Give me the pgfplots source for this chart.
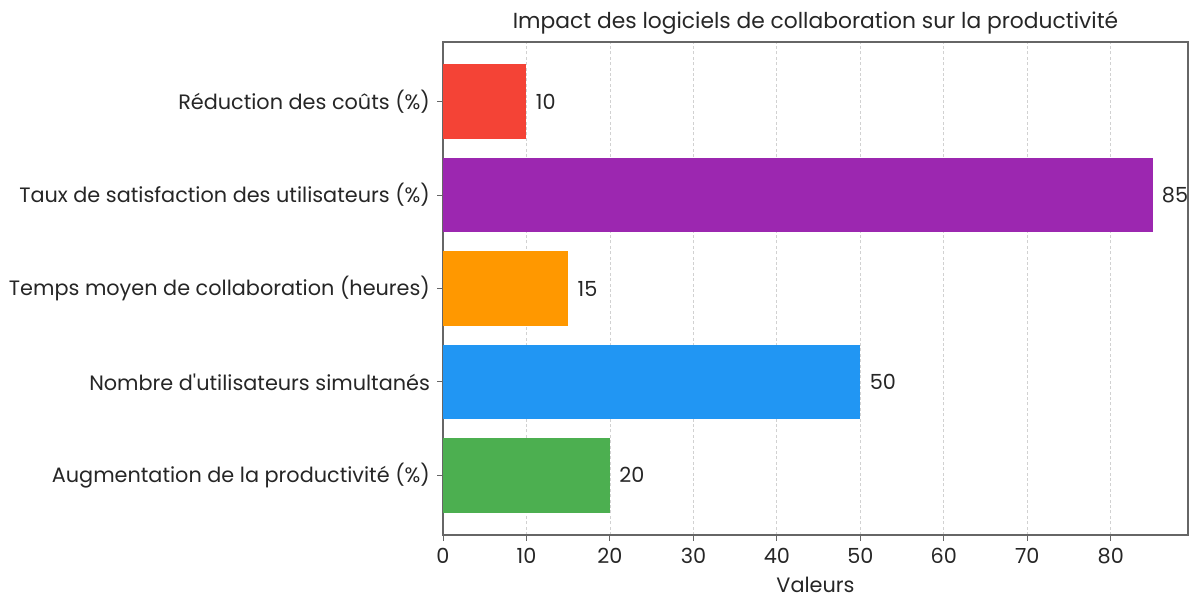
\documentclass[border=0pt]{standalone}
\usepackage{fontspec}
\setmainfont{Poppins}[Ligatures=TeXOff]
\usepackage{pgfplots}
\pgfplotsset{compat=1.18}
\definecolor{cred}{HTML}{F44336}
\definecolor{cpurple}{HTML}{9C27B0}
\definecolor{corange}{HTML}{FF9800}
\definecolor{cblue}{HTML}{2196F3}
\definecolor{cgreen}{HTML}{4CAF50}
\definecolor{txt}{HTML}{262626}
\begin{document}
\begin{tikzpicture}
\begin{axis}[
  at={(221.5pt,31.5pt)}, anchor=south west,
  scale only axis, width=372.5pt, height=246.5pt,
  xbar, bar width=0.8, bar shift=0pt,
  xmin=0, xmax=89.25, ymin=-0.64, ymax=4.64,
  xtick={0,10,...,80},
  ytick={0,1,2,3,4},
  yticklabels={Augmentation de la productivité (\%),Nombre d'utilisateurs simultanés,Temps moyen de collaboration (heures),Taux de satisfaction des utilisateurs (\%),Réduction des coûts (\%)},
  tick align=outside, tick pos=left,
  major tick length=3pt,
  tick style={color=black!60, line width=0.5pt},
  axis line style={black!60, line width=0.6pt},
  xmajorgrids, grid style={dash pattern=on 1.5pt off 1.2pt, black!18, line width=0.4pt},
  /pgf/number format/assume math mode=true,
  ticklabel style={font=\fontsize{10.4}{12}\selectfont, text=txt},
  xlabel={Valeurs}, xlabel style={font=\fontsize{10.4}{12}\selectfont, text=txt, yshift=0pt},
  title={Impact des logiciels de collaboration sur la productivité},
  title style={font=\fontsize{10.9}{13}\selectfont, text=txt, yshift=-5.5pt},
  nodes near coords, nodes near coords align={horizontal},
  every node near coord/.append style={font=\fontsize{10.4}{12}\selectfont, text=txt, xshift=1.2pt},
]
\addplot[fill=cgreen, draw=none] coordinates {(20,0)};
\addplot[fill=cblue, draw=none] coordinates {(50,1)};
\addplot[fill=corange, draw=none] coordinates {(15,2)};
\addplot[fill=cpurple, draw=none] coordinates {(85,3)};
\addplot[fill=cred, draw=none] coordinates {(10,4)};
\end{axis}
\pgfresetboundingbox
\path (0,0) rectangle (596pt,299pt);
\end{tikzpicture}
\end{document}
